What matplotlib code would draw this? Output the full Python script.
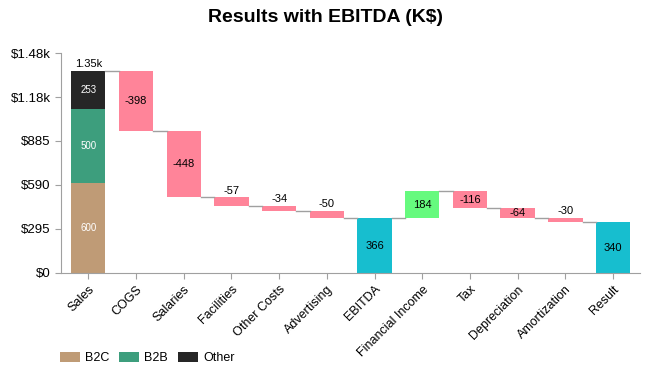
import numpy as np
import matplotlib.pyplot as plt

plt.rcParams['font.family'] = ['Liberation Sans', 'DejaVu Sans']

categories = ['Sales', 'COGS', 'Salaries', 'Facilities', 'Other Costs', 'Advertising',
              'EBITDA', 'Financial Income', 'Tax', 'Depreciation', 'Amortization', 'Result']
deltas = [0, -398, -448, -57, -34, -50, 0, 184, -116, -64, -30, 0]
is_total = [False, False, False, False, False, False, True, False, False, False, False, True]

sales_parts = ['B2C', 'B2B', 'Other']
sales_values = [600, 500, 253]
sales_colors = ['#bf9b76', '#3d9e7d', '#262626']

neg_color = '#ff8499'
pos_color = '#66fa7e'
total_color = '#17becf'

fig = plt.figure(figsize=(6.5, 3.79), dpi=100)
ax = fig.add_axes([0.094, 0.28, 0.891, 0.58])

width = 0.72
x = np.arange(len(categories))

# stacked sales bar
bottom = 0
for name, v, c in zip(sales_parts, sales_values, sales_colors):
    ax.bar(0, v, width, bottom=bottom, color=c, label=name)
    ax.text(0, bottom + v / 2, str(v), ha='center', va='center', color='white', fontsize=7)
    bottom += v
running = bottom
ax.text(0, running + 15, '%.2fk' % (running / 1000), ha='center', va='bottom', fontsize=8)

levels = [running]
for i in range(1, len(categories)):
    if is_total[i]:
        ax.bar(i, running, width, color=total_color)
        ax.text(i, running / 2, str(running), ha='center', va='center', fontsize=8)
    else:
        d = deltas[i]
        start = running
        running = running + d
        col = pos_color if d > 0 else neg_color
        ax.bar(i, d, width, bottom=start, color=col)
        if abs(d) >= 60:
            ax.text(i, start + d / 2, str(d), ha='center', va='center', fontsize=8)
        else:
            ax.text(i, max(start, running) + 12, str(d), ha='center', va='bottom', fontsize=8)
    levels.append(running)

# connectors
for i in range(len(categories) - 1):
    ax.plot([i + width / 2, i + 1 - width / 2], [levels[i], levels[i]], color='#a0a0a0', lw=1)

ax.set_ylim(0, 1475)
ax.set_xlim(-0.57, 11.57)
ax.set_yticks([0, 295, 590, 885, 1180, 1475])
ax.set_yticklabels(['$0', '$295', '$590', '$885', '$1.18k', '$1.48k'], fontsize=9.5)
ax.set_xticks(x)
ax.set_xticklabels(categories, rotation=45, ha='right', rotation_mode='anchor', fontsize=9)

for s in ['top', 'right']:
    ax.spines[s].set_visible(False)
for s in ['left', 'bottom']:
    ax.spines[s].set_color('#a0a0a0')
ax.tick_params(colors='#a0a0a0', labelcolor='black', length=4)

fig.suptitle('Results with EBITDA (K$)', fontsize=14, fontweight='bold', y=0.975)
fig.legend(loc='center left', bbox_to_anchor=(0.075, 0.055), ncol=3, frameon=False,
           fontsize=9, handlelength=1.6, handleheight=0.8, columnspacing=0.8, handletextpad=0.4)

fig.savefig('out.png', dpi=100)
